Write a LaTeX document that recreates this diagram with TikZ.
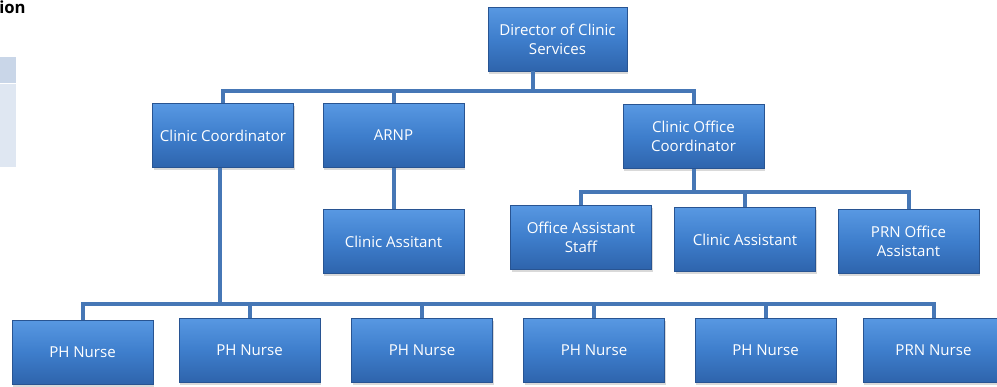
\documentclass[tikz,border=0pt]{standalone}
\usepackage{fontspec}
\setmainfont{Open Sans}
\usetikzlibrary{shadows}

\definecolor{azulcaja}{RGB}{62,126,204}
\definecolor{azulclaro}{RGB}{88,152,226}
\definecolor{azuloscuro}{RGB}{46,100,172}
\definecolor{azulborde}{RGB}{40,84,146}
\definecolor{azullinea}{RGB}{70,119,182}
\definecolor{tablacab}{RGB}{201,214,232}
\definecolor{tablacuerpo}{RGB}{223,231,242}

\begin{document}
\begin{tikzpicture}[
        x=0.75pt, y=-0.75pt,
        cargo/.style={draw=azulborde, line width=0.6pt, top color=azulclaro, bottom color=azuloscuro,
            middle color=azulcaja, text=white, align=center, font=\fontsize{11.3}{14}\selectfont,
            minimum width=105.75pt, minimum height=48pt, inner sep=1pt,
            drop shadow={opacity=0.3, shadow xshift=1pt, shadow yshift=-2pt}},
        rama/.style={draw=azullinea, line width=3pt}
    ]
        \useasboundingbox (0,0) rectangle (997,386);

        % trozo de tabla y titulo al borde izquierdo
        \fill[tablacab] (0,57) rectangle (16,83);
        \fill[tablacuerpo] (0,84) rectangle (16,167);
        \node[anchor=west, inner sep=0pt, font=\bfseries\fontsize{12.5}{14}\selectfont] (titulo) at (-1,7) {ion};

        % puntos de reparto de las ramas
        \coordinate (b0) at (533,91);
        \coordinate (b1) at (697,192);
        \coordinate (b2) at (220,304);

        \node[cargo, minimum width=104.25pt] (dir) at (557.5,39) {Director of Clinic\\Services};

        \node[cargo] (cc) at (223,135.5) {Clinic Coordinator};
        \node[cargo] (arnp) at (393.5,135.5) {ARNP};
        \node[cargo] (coc) at (693.5,136.5) {Clinic Office\\Coordinator};

        \node[cargo] (ca1) at (393.5,241.5) {Clinic Assitant};
        \node[cargo] (oas) at (581,237) {Office Assistant\\Staff};
        \node[cargo] (ca2) at (745,239.5) {Clinic Assistant};
        \node[cargo] (prnoa) at (908.5,241.5) {PRN Office\\Assistant};

        \node[cargo] (ph1) at (82.5,352) {PH Nurse};
        \node[cargo] (ph2) at (249.5,350) {PH Nurse};
        \node[cargo] (ph3) at (422,350) {PH Nurse};
        \node[cargo] (ph4) at (594,350.5) {PH Nurse};
        \node[cargo] (ph5) at (765.5,350) {PH Nurse};
        \node[cargo] (prn) at (933.5,350) {PRN Nurse};

        \draw[rama] (dir.south -| b0) -- (b0);
        \draw[rama] (b0) -| (cc.north);
        \draw[rama] (b0) -| (arnp.north);
        \draw[rama] (b0) -| (coc.north);
        \draw[rama] (arnp) -- (ca1);
        \draw[rama] (coc.south) |- (b1);
        \draw[rama] (b1) -| (oas.north);
        \draw[rama] (b1) -| (ca2.north);
        \draw[rama] (b1) -| (prnoa.north);
        \draw[rama] (cc.south -| b2) -- (b2);
        \draw[rama] (b2) -| (ph1.north);
        \draw[rama] (b2) -| (ph2.north);
        \draw[rama] (b2) -| (ph3.north);
        \draw[rama] (b2) -| (ph4.north);
        \draw[rama] (b2) -| (ph5.north);
        \draw[rama] (b2) -| (prn.north);
    \end{tikzpicture}
\end{document}
